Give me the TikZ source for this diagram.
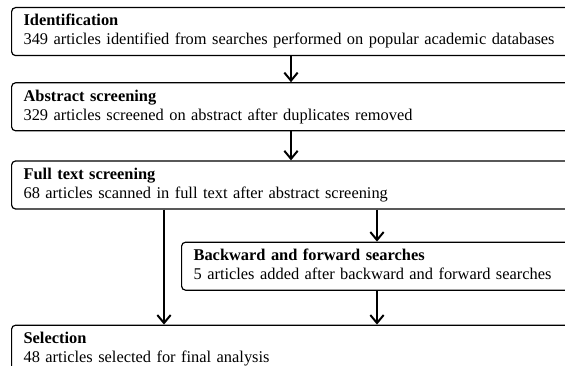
\documentclass[tikz,border=0pt]{standalone}
\usepackage{fontspec}
\setmainfont{Liberation Serif}
\usetikzlibrary{positioning,arrows.meta}
\tikzset{
stage/.style = {draw, fill=white, rectangle, rounded corners=3pt, align=left, line width=0.9pt, inner xsep=9pt, inner ysep=0pt, minimum height=36pt, text width=430pt, font=\fontsize{12.3pt}{14.25pt}\selectfont},
flow/.style = {line width=1.5pt, -{Straight Barb[length=6pt,width=10pt]}}
}
\begin{document}
\begin{tikzpicture}
    \useasboundingbox (0,0) rectangle (423.75pt,-274.5pt);
    \clip (0,0) rectangle (423.75pt,-274.5pt);

    \node [stage, anchor=north west] at (8.25pt,-5.25pt) (idf)
      {\textbf{Identification}\strut\\349 articles identified from searches performed on popular academic databases\strut};
    \node [stage, below=19.5pt of idf] (abs)
      {\textbf{Abstract screening}\strut\\329 articles screened on abstract after duplicates removed\strut};
    \node [stage, below=21.75pt of abs] (fts)
      {\textbf{Full text screening}\strut\\68 articles scanned in full text after abstract screening\strut};
    \node [stage, text width=300pt, anchor=north west, below right=24pt and 127.5pt of fts.south west] (bfs)
      {\textbf{Backward and forward searches}\strut\\5 articles added after backward and forward searches\strut};
    \node [stage, below=86.25pt of fts] (sel)
      {\textbf{Selection}\strut\\48 articles selected for final analysis\strut};

    \coordinate (colmid) at (218.25pt,0);
    \coordinate (colleft) at (123pt,0);
    \coordinate (colright) at (282.75pt,0);

    \draw[flow] (idf.south -| colmid) -- (abs.north -| colmid);
    \draw[flow] (abs.south -| colmid) -- (fts.north -| colmid);
    \draw[flow] (fts.south -| colleft) -- (sel.north -| colleft);
    \draw[flow] (fts.south -| colright) -- (bfs.north -| colright);
    \draw[flow] (bfs.south -| colright) -- (sel.north -| colright);

\end{tikzpicture}
\end{document}
